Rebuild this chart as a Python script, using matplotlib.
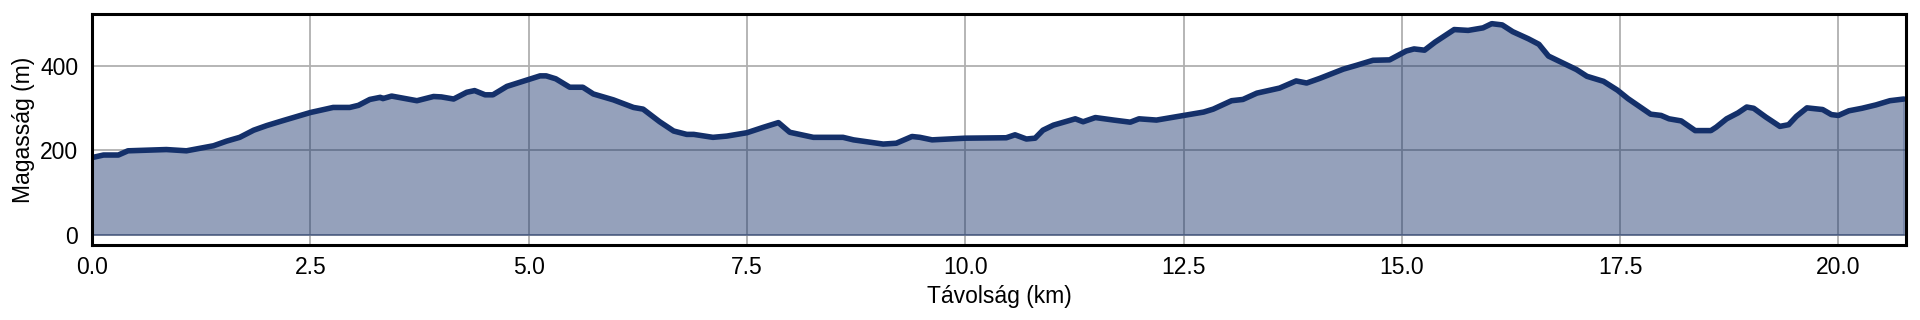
import matplotlib
matplotlib.use("Agg")
import matplotlib.pyplot as plt

distance_km = [0.00, 0.13, 0.30, 0.41, 0.85, 1.08, 1.39, 1.54, 1.69, 1.85, 2.00, 2.19, 2.50,
               2.76, 2.95, 3.05, 3.18, 3.30, 3.33, 3.43, 3.72, 3.91, 4.00, 4.14, 4.29, 4.38,
               4.50, 4.59, 4.75, 4.98, 5.13, 5.20, 5.31, 5.47, 5.62, 5.74, 5.97, 6.20, 6.31,
               6.50, 6.66, 6.81, 6.89, 7.11, 7.27, 7.50, 7.69, 7.86, 7.99, 8.26, 8.60, 8.72,
               9.06, 9.21, 9.39, 9.48, 9.62, 10.00, 10.47, 10.57, 10.70, 10.80, 10.89, 11.01,
               11.26, 11.35, 11.49, 11.70, 11.89, 11.99, 12.19, 12.50, 12.73, 12.84, 13.05,
               13.18, 13.34, 13.49, 13.60, 13.79, 13.91, 14.06, 14.33, 14.48, 14.67, 14.86,
               15.05, 15.14, 15.26, 15.38, 15.60, 15.76, 15.93, 16.03, 16.15, 16.27, 16.45,
               16.57, 16.68, 16.80, 17.00, 17.12, 17.31, 17.47, 17.59, 17.71, 17.85, 17.97,
               18.06, 18.20, 18.36, 18.54, 18.60, 18.72, 18.85, 18.95, 19.03, 19.17, 19.33,
               19.43, 19.52, 19.64, 19.82, 19.92, 20.00, 20.12, 20.27, 20.43, 20.59, 20.75]
elevation_m = [183, 189, 189, 199, 202, 199, 211, 222, 231, 248, 259, 271, 290,
               302, 302, 307, 321, 326, 323, 329, 318, 328, 327, 322, 338, 342,
               332, 332, 352, 367, 377, 377, 370, 350, 350, 334, 320, 302, 298,
               268, 246, 238, 238, 231, 234, 242, 255, 266, 243, 231, 231, 225,
               215, 217, 233, 231, 225, 229, 230, 237, 227, 229, 248, 260,
               275, 268, 278, 272, 267, 275, 272, 283, 291, 298, 318,
               321, 336, 343, 348, 365, 360, 371, 393, 402, 414, 415,
               436, 441, 438, 457, 487, 485, 491, 501, 498, 482, 465,
               452, 424, 412, 392, 376, 364, 343, 323, 306, 286, 283,
               275, 270, 247, 247, 255, 275, 289, 303, 300, 279, 257,
               261, 281, 301, 297, 285, 283, 294, 300, 308, 318, 322]

x_ticks = [0.0, 2.5, 5.0, 7.5, 10.0, 12.5, 15.0, 17.5, 20.0]
y_ticks = [0, 200, 400]

plt.rcParams['font.family'] = ['Liberation Sans', 'DejaVu Sans']

navy = '#14306a'
fig = plt.figure(figsize=(19.2, 3.2), dpi=100)
ax = fig.add_axes([0.048, 0.234, 0.9445, 0.721])
ax.set_axisbelow(True)
ax.grid(True, color='#b0b0b0', linewidth=1.3)
ax.fill_between(distance_km, elevation_m, 0, color=navy, alpha=0.45, linewidth=1.2)
ax.plot(distance_km, elevation_m, color=navy, linewidth=4.0,
        solid_capstyle='round', solid_joinstyle='round')

ax.set_xlim(0, 20.77)
ax.set_ylim(-25, 523)
ax.set_xticks(x_ticks)
ax.set_yticks(y_ticks)
ax.tick_params(axis='both', length=0, labelsize=16.5)
ax.tick_params(axis='x', pad=8)
ax.tick_params(axis='y', pad=10)
ax.set_xlabel('Távolság (km)', fontsize=16.5, labelpad=4)
ax.set_ylabel('Magasság (m)', fontsize=16.5, labelpad=4)
for s in ax.spines.values():
    s.set_linewidth(2.2)
    s.set_color('black')

fig.savefig('out.png', dpi=100)
